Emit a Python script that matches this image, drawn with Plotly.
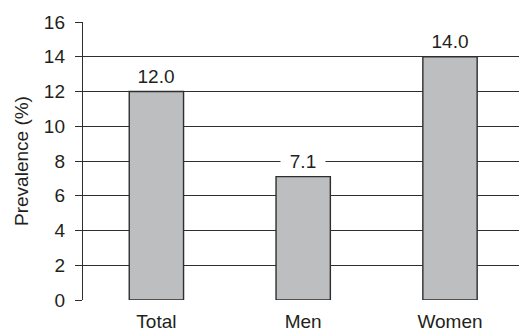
import plotly.graph_objects as go

categories = ["Total", "Men", "Women"]
values = [12.0, 7.1, 14.0]
value_labels = ["12.0", "7.1", "14.0"]
y_ticks = [0, 2, 4, 6, 8, 10, 12, 14, 16]

FONT = "Liberation Sans Narrow, Arial Narrow, Liberation Sans, Arial, sans-serif"
INK = "#2e2e2e"

fig = go.Figure()
fig.add_trace(go.Bar(
    x=categories, y=values, width=0.37,
    marker=dict(color="#bcbec0", line=dict(color=INK, width=1.4)),
    hoverinfo="skip",
))
for c, v, t in zip(categories, values, value_labels):
    fig.add_annotation(x=c, y=v, text=t, showarrow=False, yanchor="bottom",
                       yshift=3, bgcolor="white", borderpad=1, width=42,
                       font=dict(family=FONT, size=19, color="#231f20"))

fig.update_layout(
    width=519, height=332,
    margin=dict(l=83, r=0, t=22, b=32),
    paper_bgcolor="white", plot_bgcolor="white",
    showlegend=False,
    font=dict(family=FONT, color="#231f20", size=18),
    xaxis=dict(range=[-0.5, 2.47], showgrid=False, zeroline=False,
               showline=False, ticks="", ticklabelstandoff=8,
               tickfont=dict(size=19)),
    yaxis=dict(range=[0, 16], tickvals=y_ticks, showgrid=True,
               gridcolor=INK, gridwidth=1.4, zeroline=False,
               showline=True, linecolor=INK, linewidth=1.4,
               ticks="outside", ticklen=7, tickcolor=INK, tickwidth=1.4,
               ticklabelstandoff=6, tickfont=dict(size=19),
               title=dict(text="Prevalence (%)", standoff=10,
                          font=dict(size=19))),
)
fig.write_html("out.html")
